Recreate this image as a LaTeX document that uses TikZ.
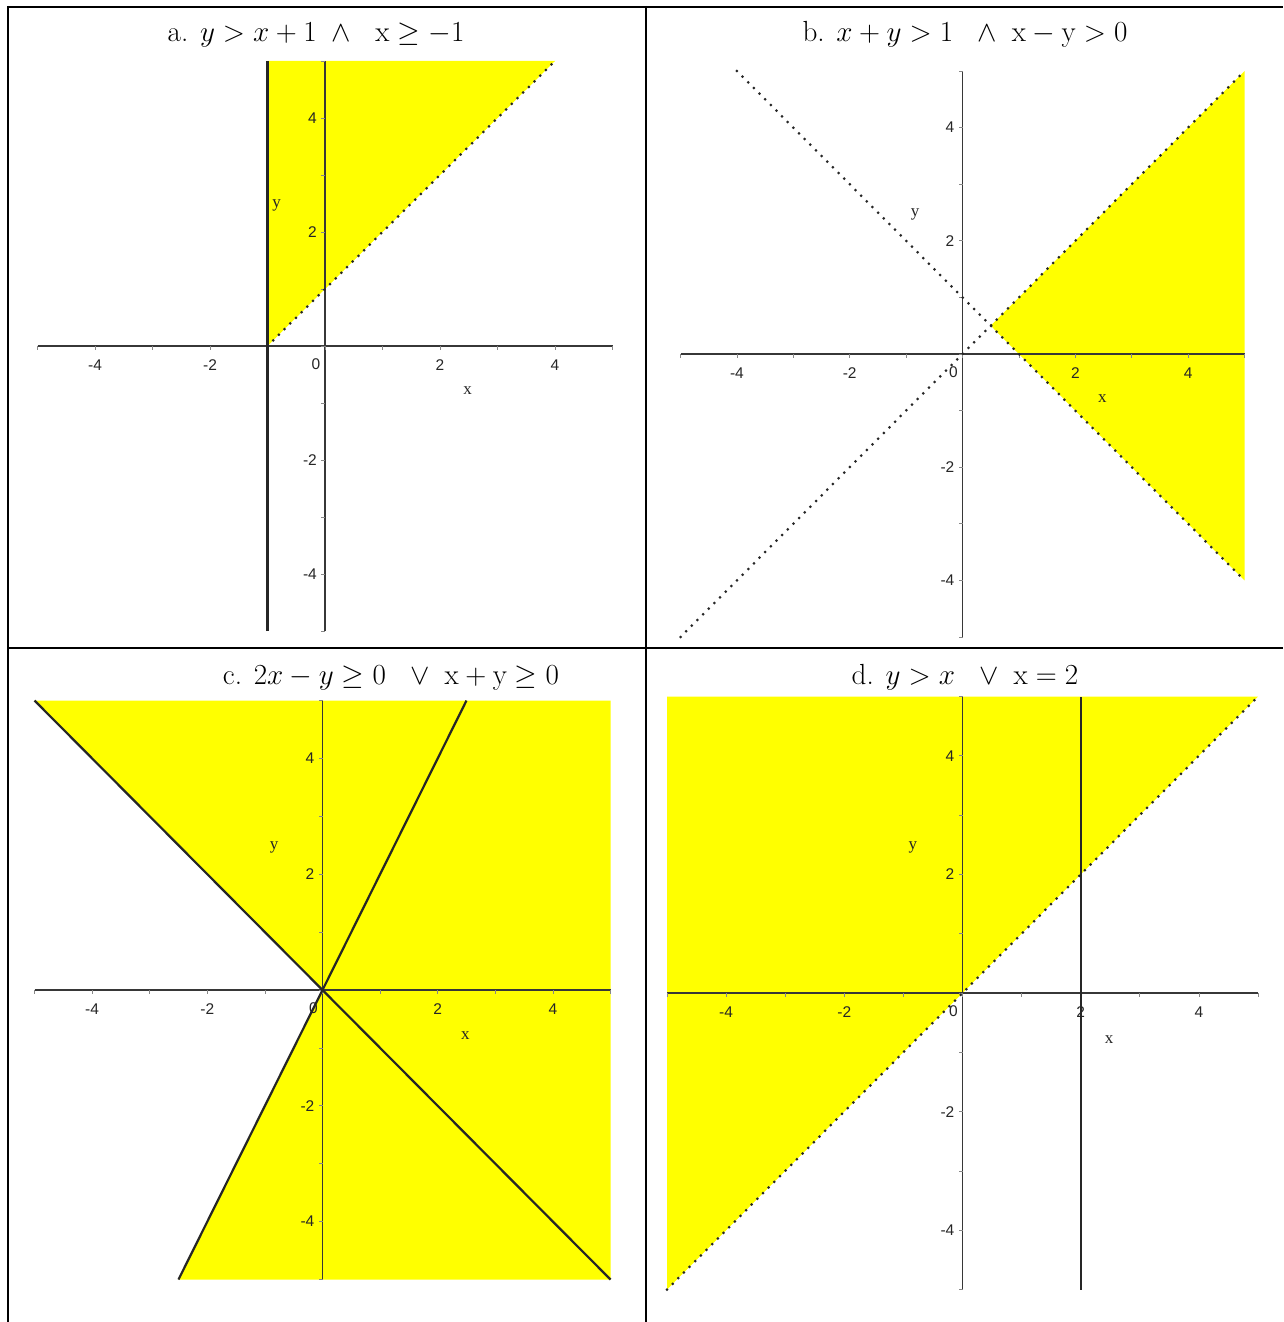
\documentclass[tikz,border=0pt]{standalone}
\usepackage{fontspec}
\newfontfamily\tickfont{Liberation Sans}
\newfontfamily\lblfont{Liberation Serif}
\usetikzlibrary{calc}
\definecolor{fillyellow}{RGB}{255,255,0}
\definecolor{axisgray}{RGB}{55,55,55}
\tikzset{
  region/.style={fill=fillyellow, draw=none},
  axisline/.style={draw=axisgray, line width=1.4pt},
  tickmark/.style={draw=axisgray!60, line width=0.8pt},
  ticklabel/.style={font=\tickfont\fontsize{15.5}{15.5}\selectfont, text=black!85, inner sep=0pt},
  axlabel/.style={font=\lblfont\fontsize{17}{17}\selectfont, text=black!85, inner sep=0pt},
  boundary/.style={draw=black!85, line width=2.2pt},
  dotline/.style={draw=black!85, line width=3pt, dash pattern=on 0pt off 8pt, line cap=round},
  gridline/.style={draw=black, line width=2pt},
  titletext/.style={font=\Huge, anchor=base, inner sep=0pt},
}
\newcommand\plotaxes[1]{%
  \draw[axisline] (-5,0) -- (5,0);
  \draw[axisline] (0,-5) -- (0,5);
  \foreach \i in {-5,...,5} {
    \draw[tickmark] (\i,0) -- ++(0,-4pt);
    \draw[tickmark] (0,\i) -- ++(-4pt,0);
  }
  \foreach \i/\t in {-4/-4,-2/-2,2/2,4/4} {
    \node[ticklabel] (#1x\t) at ($(\i,0)+(0,-19pt)$) {\t};
    \node[ticklabel, anchor=east] (#1y\t) at ($(0,\i)+(-8pt,0)$) {\t};
  }
  \node[ticklabel] (#1zero) at ($(0,0)+(-9pt,-18pt)$) {0};
  \node[axlabel] (#1xl) at (2.48,-0.78) {x};
  \node[axlabel] (#1yl) at (-0.84,2.46) {y};
}
\newcommand\ttl[1]{\scalebox{1.17}{#1}}
\begin{document}
\begin{tikzpicture}
\useasboundingbox (0pt,0pt) rectangle (1283pt,-1322pt);
\fill[white] (0pt,0pt) rectangle (1283pt,-1322pt);

% table grid
\draw[gridline] (7pt,-7pt) -- (1283pt,-7pt);
\draw[gridline] (7pt,-648pt) -- (1283pt,-648pt);
\draw[gridline] (8pt,-6pt) -- (8pt,-1322pt);
\draw[gridline] (646pt,-6pt) -- (646pt,-1322pt);

% titles
\node[titletext] (ta) at (316pt,-42pt) {\ttl{a. $y>x+1\ \wedge\ \ \mathrm{x}\geq-1$}};
\node[titletext] (tb) at (965pt,-42pt) {\ttl{b. $x+y>1\ \ \wedge\ \mathrm{x}-\mathrm{y}>0$}};
\node[titletext] (tc) at (391pt,-684pt) {\ttl{c. $2x-y\geq0\ \ \vee\ \mathrm{x}+\mathrm{y}\geq0$}};
\node[titletext] (td) at (965pt,-684pt) {\ttl{d. $y>x\ \ \vee\ \mathrm{x}=2$}};

% panel a
\begin{scope}[shift={(325pt,-346pt)}, x=57.5pt, y=57pt]
  \fill[region] (-1,0) -- (4,5) -- (-1,5) -- cycle;
  \plotaxes{a}
  \draw[dotline] (-1,0) -- (4,5);
  \draw[boundary] (-1,-5) -- (-1,5);
\end{scope}

% panel b
\begin{scope}[shift={(962.5pt,-354pt)}, x=56.4pt, y=56.6pt]
  \fill[region] (0.5,0.5) -- (5,5) -- (5,-4) -- cycle;
  \plotaxes{b}
  \draw[dotline] (-4,5) -- (5,-4);
  \draw[dotline] (-5,-5) -- (5,5);
\end{scope}

% panel c
\begin{scope}[shift={(322.5pt,-990pt)}, x=57.6pt, y=57.9pt]
  \fill[region] (-5,5) -- (5,5) -- (5,-5) -- (-2.5,-5) -- (0,0) -- cycle;
  \plotaxes{c}
  \draw[boundary] (-2.5,-5) -- (2.5,5);
  \draw[boundary] (-5,5) -- (5,-5);
\end{scope}

% panel d
\begin{scope}[shift={(962.5pt,-993pt)}, x=59.1pt, y=59.3pt]
  \fill[region] (-5,-5) -- (5,5) -- (-5,5) -- cycle;
  \plotaxes{d}
  \draw[dotline] (-5,-5) -- (5,5);
  \draw[boundary] (2,-5) -- (2,5);
\end{scope}
\end{tikzpicture}
\end{document}
